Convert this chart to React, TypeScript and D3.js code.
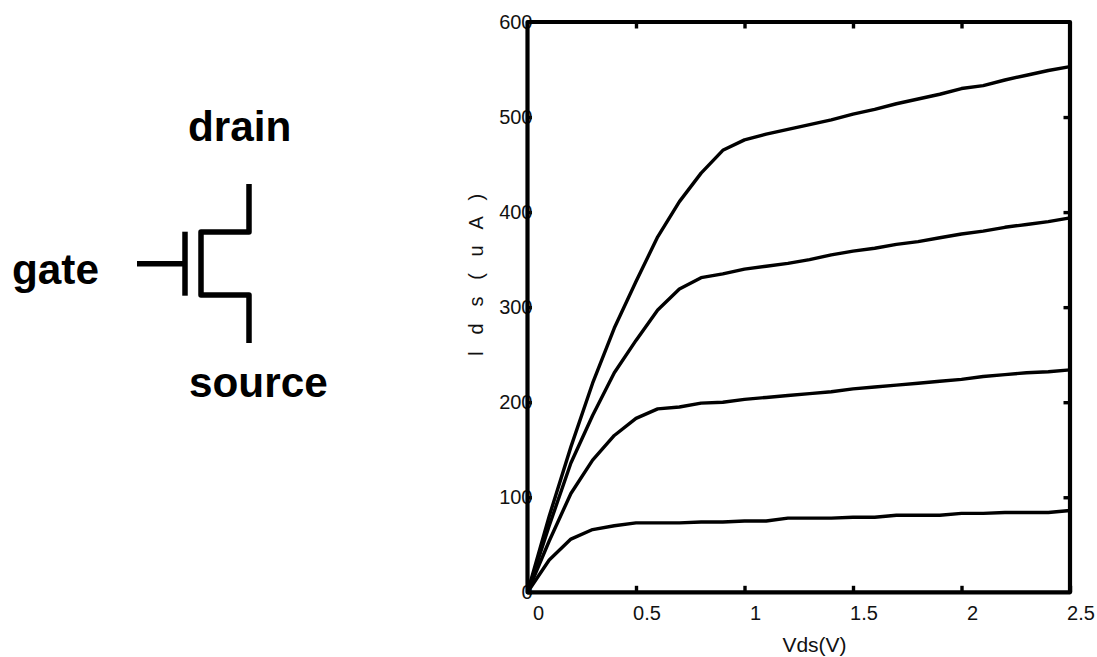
import { useEffect, useRef } from 'react';
import * as d3 from 'd3';

const vds = [0, 0.1, 0.2, 0.3, 0.4, 0.5, 0.6, 0.7, 0.8, 0.9, 1.0, 1.1, 1.2, 1.3, 1.4, 1.5, 1.6, 1.7, 1.8, 1.9, 2.0, 2.1, 2.2, 2.3, 2.4, 2.5];

const ids1 = [0, 80, 153, 220, 278, 327, 374, 411, 441, 465, 476, 482, 487, 492, 497, 503, 508, 514, 519, 524, 530, 533, 539, 544, 549, 553];
const ids2 = [0, 70, 136, 186, 231, 265, 297, 319, 331, 335, 340, 343, 346, 350, 355, 359, 362, 366, 369, 373, 377, 380, 384, 387, 390, 394];
const ids3 = [0, 54, 104, 139, 165, 183, 193, 195, 199, 200, 203, 205, 207, 209, 211, 214, 216, 218, 220, 222, 224, 227, 229, 231, 232, 234];
const ids4 = [0, 34, 56, 66, 70, 73, 73, 73, 74, 74, 75, 75, 78, 78, 78, 79, 79, 81, 81, 81, 83, 83, 84, 84, 84, 86];
const seriesList = [ids1, ids2, ids3, ids4];

const xTicks = [0, 0.5, 1, 1.5, 2, 2.5];
const yTicks = [0, 100, 200, 300, 400, 500, 600];

const fontFamily = '"Liberation Sans", Arial, sans-serif';

const App = () => {
    const ref = useRef<SVGSVGElement>(null);

    useEffect(() => {
        const svg = d3.select(ref.current);
        svg.selectAll('*').remove();

        const left = 527.5, right = 1070, top = 22, bottom = 592.3;
        const x = d3.scaleLinear().domain([0, 2.5]).range([left, right]);
        const y = d3.scaleLinear().domain([0, 600]).range([bottom, top]);

        const styleAxis = (g: any) => {
            g.attr('font-family', fontFamily).attr('font-size', 20);
            g.select('.domain').remove();
            g.selectAll('line').attr('stroke', '#000').attr('stroke-width', 3.4);
            g.selectAll('text').attr('fill', '#111');
        };

        // labels hang off-centre from their ticks, as in the original figure
        svg.append('g')
            .attr('transform', `translate(0,${bottom})`)
            .call(d3.axisBottom(x).tickValues(xTicks).tickFormat(d3.format('~g') as any).tickSize(-6.5).tickPadding(13.5))
            .call(styleAxis)
            .selectAll('text').attr('dx', 10.5);

        svg.append('g')
            .attr('transform', `translate(0,${top})`)
            .call(d3.axisTop(x).tickValues(xTicks.slice(1, -1)).tickFormat(() => '').tickSize(-6.5))
            .call(styleAxis);

        svg.append('g')
            .attr('transform', `translate(${left},0)`)
            .call(d3.axisLeft(y).tickValues(yTicks).tickSize(-4.5).tickPadding(-5))
            .call(styleAxis);

        svg.append('g')
            .attr('transform', `translate(${right},0)`)
            .call(d3.axisRight(y).tickValues(yTicks.slice(1, -1)).tickFormat(() => '').tickSize(-6.5))
            .call(styleAxis);

        svg.append('rect')
            .attr('x', left).attr('y', top)
            .attr('width', right - left).attr('height', bottom - top)
            .attr('fill', 'none').attr('stroke', '#000').attr('stroke-width', 4.2)
            .attr('stroke-linejoin', 'round');

        const line = d3.line<number>()
            .x((_, i) => x(vds[i]))
            .y(d => y(d));

        svg.append('g').selectAll('path')
            .data(seriesList)
            .enter()
            .append('path')
            .attr('d', d => line(d))
            .attr('fill', 'none')
            .attr('stroke', '#000')
            .attr('stroke-width', 3.4)
            .attr('stroke-linejoin', 'round');

        svg.append('text')
            .attr('x', 814.5).attr('y', 651.5)
            .attr('text-anchor', 'middle')
            .attr('font-family', fontFamily).attr('font-size', 21)
            .attr('fill', '#111')
            .text('Vds(V)');

        svg.append('text')
            .attr('transform', 'translate(483,272) rotate(-90)')
            .attr('text-anchor', 'middle')
            .attr('font-family', fontFamily).attr('font-size', 20)
            .attr('letter-spacing', 5.6)
            .attr('fill', '#111')
            .text('l d s ( u A )');

        // transistor symbol
        const symbol = svg.append('g')
            .attr('fill', 'none').attr('stroke', '#000').attr('stroke-width', 5.5)
            .attr('stroke-linejoin', 'round');
        symbol.append('path').attr('d', 'M137,263.7H185');
        symbol.append('path').attr('d', 'M185,231.7V295.7');
        symbol.append('path').attr('d', 'M249,184V232H201V295H249V343');

        const names: [string, number, number][] = [['drain', 188, 141], ['gate', 12, 284], ['source', 189, 397]];
        svg.append('g').selectAll('text')
            .data(names)
            .enter()
            .append('text')
            .attr('x', d => d[1]).attr('y', d => d[2])
            .attr('font-family', fontFamily).attr('font-size', 42.3).attr('font-weight', 'bold')
            .attr('fill', '#000')
            .text(d => d[0]);
    }, []);

    return <svg ref={ref} width={1097} height={657} style={{ position: 'absolute', left: 0, top: 0, background: '#fff' }} />;
};

export default App;
